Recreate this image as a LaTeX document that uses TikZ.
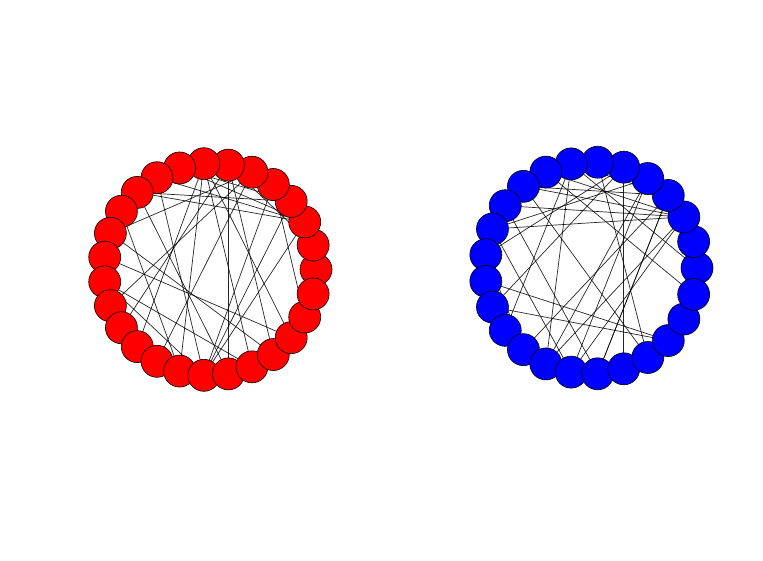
\documentclass[tikz,border=0pt]{standalone}
\usepackage{tikz}
\definecolor{rouge}{HTML}{FF0000}
\definecolor{bleu}{HTML}{0000FF}
\usetikzlibrary{shapes,calc}
\pgfdeclarelayer{edges}
\pgfsetlayers{edges,main}

\tikzset{
  vertex/.style={circle, minimum size=32pt, inner sep=0pt, draw=black, line width=0.6pt},
  link/.style={black, opacity=0.85, line width=0.7pt}
}

\begin{document}
\begin{tikzpicture}[x=1pt,y=-1pt]
  \useasboundingbox (0,0) rectangle (763,560);

  % left ring, 27 nodes
  \foreach \i in {0,...,26}
    \node[vertex, fill=rouge] at ($(210,269.5)+({-\i*360/27}:106)$) (r\i) {};

  % right ring, 25 nodes
  \foreach \i in {0,...,24}
    \node[vertex, fill=bleu] at ($(591,268)+({-\i*360/25}:106)$) (b\i) {};

  \begin{pgfonlayer}{edges}
    \foreach \a/\b in {6/21, 13/24, 14/22, 15/5, 12/5, 10/2, 10/3, 9/2, 16/6,
                       18/5, 7/22, 14/20, 20/4, 20/3, 20/2, 4/25, 12/23, 8/2,
                       7/3, 6/1, 9/20, 11/19, 7/24, 6/23, 19/7, 8/3, 5/1, 17/7,
                       10/21}
      \draw[link] (r\a.center) -- (r\b.center);

    \foreach \a/\b in {5/20, 9/3, 9/2, 10/2, 11/2, 12/5, 13/22, 14/22, 15/7,
                       16/3, 17/2, 18/2, 18/4, 19/3, 10/19, 11/18, 9/21, 7/17,
                       8/24, 7/0, 12/16, 6/21, 8/2, 7/3, 4/17, 3/19,
                       14/5, 11/4}
      \draw[link] (b\a.center) -- (b\b.center);
  \end{pgfonlayer}
\end{tikzpicture}
\end{document}
